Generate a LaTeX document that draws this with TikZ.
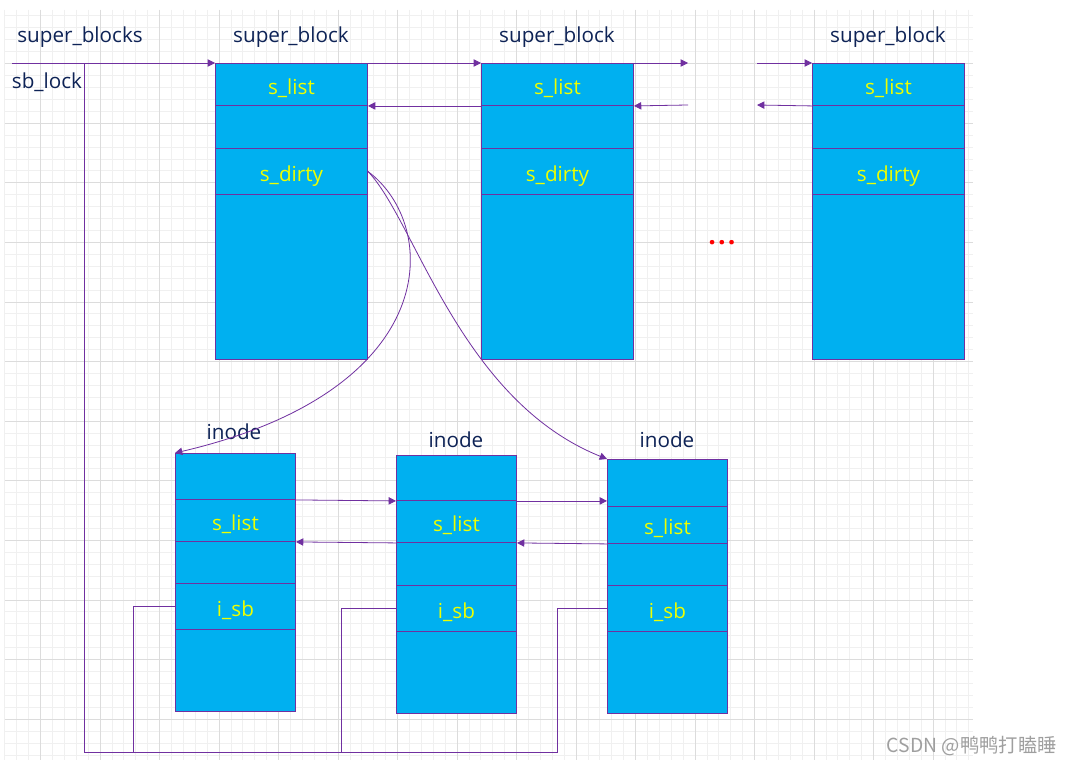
\documentclass[tikz,border=0pt]{standalone}
\usepackage{fontspec}
\setmainfont{Open Sans}
\newfontfamily\cjk{Noto Sans CJK SC}
\usetikzlibrary{arrows.meta}

\definecolor{lnk}{HTML}{7030A0}
\definecolor{boxc}{HTML}{00B0F0}
\definecolor{fldtxt}{HTML}{EEFF00}
\definecolor{ttlc}{HTML}{0E2356}
\definecolor{gridmin}{HTML}{F0F0F0}
\definecolor{gridmaj}{HTML}{DCDCDC}

\begin{document}
\begin{tikzpicture}[x=0.75pt, y=-0.75pt,
  fld/.style={draw=lnk, fill=boxc, line width=0.7pt, inner sep=0pt, anchor=north west,
    text=fldtxt, text height=15pt, text depth=0.3pt, font=\fontsize{15.5}{17}\selectfont},
  ttl/.style={text=ttlc, font=\fontsize{15.5}{17}\selectfont, inner sep=0pt},
  wire/.style={draw=lnk, line width=0.6pt},
  tip/.style={wire, -{Triangle[length=5.5pt, width=5.5pt]}}]

  \newcommand\fld[6]{\node[fld, minimum width=#4*0.75pt, minimum height=#5*0.75pt] (#1) at (#2,#3) {#6};}

  \useasboundingbox (0,0) rectangle (1072,766);
  \fill[white] (0,0) rectangle (1072,766);

  %% grid
  \foreach \m in {-3,...,78} \draw[gridmin, line width=0.5pt] ({40.5+11.9*\m},10) -- ({40.5+11.9*\m},760);
  \foreach \m in {-4,...,58} \draw[gridmin, line width=0.5pt] (5,{63.5+11.92*\m}) -- (973,{63.5+11.92*\m});
  \foreach \m in {0,...,15} \draw[gridmaj, line width=0.5pt] ({40.5+59.5*\m},10) -- ({40.5+59.5*\m},760);
  \foreach \m in {0,...,11} \draw[gridmaj, line width=0.5pt] (5,{63.5+59.6*\m}) -- (973,{63.5+59.6*\m});

  %% super blocks
  \foreach \n/\x in {1/215, 2/481, 3/812} {
    \fld{sb\n-l}{\x}{63}{152}{42}{s\_list}
    \fld{sb\n-g}{\x}{105}{152}{43}{}
    \fld{sb\n-d}{\x}{148}{152}{46}{s\_dirty}
    \fld{sb\n-r}{\x}{194}{152}{165}{}
    \node[ttl] (sbt\n) at ({\x+76},37) {super\_block};
  }
  \node[ttl] (sbs) at (80,37) {super\_blocks};
  \node[ttl] (lockt) at (47,82) {sb\_lock};
  \node[text=red, font=\bfseries\fontsize{20}{22}\selectfont] (more) at (722,243) {.\hspace{1.6pt}.\hspace{1.6pt}.};

  %% inodes
  \fld{in1-a}{175}{453}{120}{46}{}
  \fld{in1-b}{175}{499}{120}{42}{s\_list}
  \fld{in1-c}{175}{541}{120}{42}{}
  \fld{in1-d}{175}{583}{120}{46}{i\_sb}
  \fld{in1-e}{175}{629}{120}{82}{}
  \node[ttl] (int1) at (234,432) {inode};

  \fld{in2-a}{396}{455}{120}{45}{}
  \fld{in2-b}{396}{500}{120}{42}{s\_list}
  \fld{in2-c}{396}{542}{120}{43}{}
  \fld{in2-d}{396}{585}{120}{46}{i\_sb}
  \fld{in2-e}{396}{631}{120}{82}{}
  \node[ttl] (int2) at (456,440) {inode};

  \fld{in3-a}{607}{459}{120}{47}{}
  \fld{in3-b}{607}{506}{120}{37}{s\_list}
  \fld{in3-c}{607}{543}{120}{42}{}
  \fld{in3-d}{607}{585}{120}{46}{i\_sb}
  \fld{in3-e}{607}{631}{120}{82}{}
  \node[ttl] (int3) at (667,440) {inode};

  %% list of super blocks
  \coordinate (head) at (12,63);
  \coordinate (lock) at (84,63);
  \coordinate (gapA) at (688,63);
  \coordinate (gapB) at (757,63);
  \coordinate (gapC) at (688,105);
  \coordinate (gapD) at (757,105);
  \draw[tip] (head) -- (sb1-l.north west);
  \draw[tip] (sb1-l.north east) -- (sb2-l.north west);
  \draw[tip] (sb2-l.north east) -- (gapA);
  \draw[tip] (gapB) -- (sb3-l.north west);
  \draw[tip] (sb2-l.south west) -- (sb1-l.south east); %% sb2->sb1
  \draw[tip] (gapC) -- (sb2-l.south east);
  \draw[tip] (sb3-l.south west) -- (gapD);

  %% s_dirty -> inodes
  \draw[tip] (sb1-d.east) .. controls (440,225) and (445,390) .. (in1-a.north west);
  \draw[tip] (sb1-d.east) .. controls (415,220) and (460,400) .. (in3-a.north west);

  %% s_list of inodes
  \draw[tip] (in1-a.south east) -- (in2-a.south west);
  \draw[tip] (in2-a.south east) -- (in2-a.south east -| in3-a.west);
  \draw[tip] (in2-b.south west) -- (in1-b.south east);
  \draw[tip] (in3-b.south west) -- (in2-b.south east);

  %% i_sb back to sb_lock
  \coordinate (base) at (557,752);
  \coordinate (corner) at (84,752);
  \draw[wire] (in3-d.west) -| (base) -- (corner) -- (lock);
  \draw[wire] (in1-d.west) -| (133,752);
  \draw[wire] (in2-d.west) -| (341,752);

  \node[text=gray!75, font=\cjk\fontsize{14.5}{16}\selectfont, anchor=east, inner sep=0pt] (mark) at (1057,746) {CSDN @鸭鸭打瞌睡};

\end{tikzpicture}
\end{document}
